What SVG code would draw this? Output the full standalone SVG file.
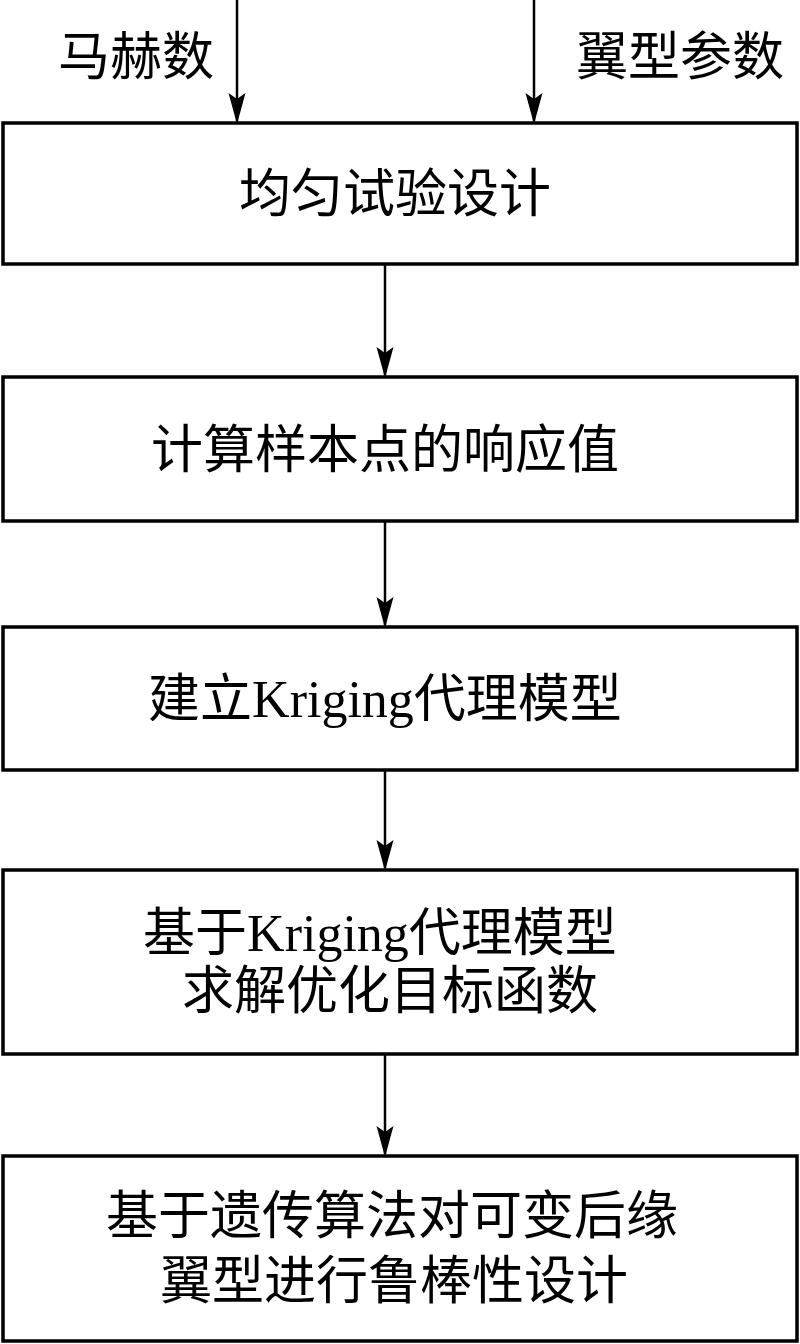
<svg xmlns="http://www.w3.org/2000/svg" width="800" height="1344" viewBox="0 0 800 1344">
<defs>
<style>
.box{fill:#fff;stroke:#000;stroke-width:3.5}
.t{font-family:"Liberation Serif","Noto Sans CJK SC",serif;font-size:52px;fill:#000;text-anchor:middle}
.c{stroke:#000;stroke-width:2.5;fill:none}
.ah{fill:#000}
</style>
</defs>
<rect width="800" height="1344" fill="#fff"/>
<g id="connectors">
<line class="c" x1="237" y1="0" x2="237" y2="121"/>
<line class="c" x1="534" y1="0" x2="534" y2="121"/>
<line class="c" x1="385" y1="264" x2="385" y2="375"/>
<line class="c" x1="385" y1="521" x2="385" y2="625"/>
<line class="c" x1="385" y1="770" x2="385" y2="868"/>
<line class="c" x1="385" y1="1054" x2="385" y2="1154"/>
<path class="ah" d="M237,124 L228.5,93 L237,99 L245.5,93 Z"/>
<path class="ah" d="M534,124 L525.5,93 L534,99 L542.5,93 Z"/>
<path class="ah" d="M385,378 L376.5,347 L385,353 L393.5,347 Z"/>
<path class="ah" d="M385,628 L376.5,597 L385,603 L393.5,597 Z"/>
<path class="ah" d="M385,871 L376.5,840 L385,846 L393.5,840 Z"/>
<path class="ah" d="M385,1157 L376.5,1126 L385,1132 L393.5,1126 Z"/>
</g>
<g id="label-mach"><text class="t" x="136" y="75">马赫数</text></g>
<g id="label-airfoil"><text class="t" x="680" y="75">翼型参数</text></g>
<g id="n1"><rect class="box" x="3" y="123" width="794" height="141"/><text class="t" x="395" y="212">均匀试验设计</text></g>
<g id="n2"><rect class="box" x="3" y="377" width="794" height="144"/><text class="t" x="385" y="468">计算样本点的响应值</text></g>
<g id="n3"><rect class="box" x="3" y="627" width="794" height="143"/><text class="t" x="385" y="717">建立Kriging代理模型</text></g>
<g id="n4"><rect class="box" x="3" y="870" width="794" height="184"/><text class="t" x="380" y="951">基于Kriging代理模型</text><text class="t" x="390" y="1009">求解优化目标函数</text></g>
<g id="n5"><rect class="box" x="3" y="1156" width="794" height="185"/><text class="t" x="392" y="1234">基于遗传算法对可变后缘</text><text class="t" x="394" y="1299">翼型进行鲁棒性设计</text></g>
</svg>
